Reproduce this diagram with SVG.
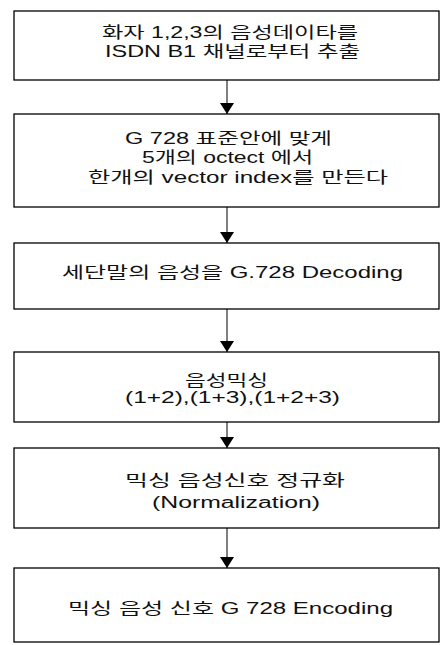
<svg xmlns="http://www.w3.org/2000/svg" width="445" height="645" viewBox="0 0 445 645">
  <style>
    .box { fill: #ffffff; stroke: #000000; stroke-width: 1.3; }
    .lbl { font-family: "Liberation Sans", "Noto Sans CJK KR", Arial, sans-serif; font-size: 16px; fill: #111111; }
    .edge { stroke: #000000; stroke-width: 1; fill: none; marker-end: url(#tri); }
  </style>
  <defs>
    <marker id="tri" viewBox="0 0 11 14" refX="11" refY="7" markerWidth="11" markerHeight="14" markerUnits="userSpaceOnUse" orient="auto">
      <path d="M0,0 L11,7 L0,14 Z" fill="#000000"/>
    </marker>
  </defs>
  <rect width="445" height="645" fill="#ffffff"/>

  <g id="step1">
    <rect class="box" x="14" y="11" width="425" height="69"/>
    <text class="lbl" x="102" y="38" textLength="256" lengthAdjust="spacingAndGlyphs">화자 1,2,3의 음성데이타를</text>
    <text class="lbl" x="105" y="57" textLength="255" lengthAdjust="spacingAndGlyphs">ISDN B1 채널로부터 추출</text>
  </g>

  <g id="step2">
    <rect class="box" x="14" y="114" width="425" height="93"/>
    <text class="lbl" x="125" y="144" textLength="207" lengthAdjust="spacingAndGlyphs">G 728 표준안에 맞게</text>
    <text class="lbl" x="142" y="163" textLength="171" lengthAdjust="spacingAndGlyphs">5개의 octect 에서</text>
    <text class="lbl" x="88" y="183" textLength="300" lengthAdjust="spacingAndGlyphs">한개의 vector  index를 만든다</text>
  </g>

  <g id="step3">
    <rect class="box" x="14" y="243" width="425" height="66"/>
    <text class="lbl" x="62" y="278" textLength="341" lengthAdjust="spacingAndGlyphs">세단말의 음성을 G.728 Decoding</text>
  </g>

  <g id="step4">
    <rect class="box" x="14" y="352" width="425" height="70"/>
    <text class="lbl" x="185" y="386" textLength="83" lengthAdjust="spacingAndGlyphs">음성믹싱</text>
    <text class="lbl" x="125" y="403" textLength="215" lengthAdjust="spacingAndGlyphs">(1+2),(1+3),(1+2+3)</text>
  </g>

  <g id="step5">
    <rect class="box" x="14" y="448" width="425" height="80"/>
    <text class="lbl" x="125" y="486" textLength="220" lengthAdjust="spacingAndGlyphs">믹싱 음성신호 정규화</text>
    <text class="lbl" x="152" y="508" textLength="168" lengthAdjust="spacingAndGlyphs">(Normalization)</text>
  </g>

  <g id="step6">
    <rect class="box" x="14" y="568" width="425" height="74"/>
    <text class="lbl" x="68" y="614" textLength="325" lengthAdjust="spacingAndGlyphs">믹싱 음성 신호 G 728 Encoding</text>
  </g>

  <g id="connectors">
    <line class="edge" x1="227" y1="80" x2="227" y2="114"/>
    <line class="edge" x1="227" y1="207" x2="227" y2="243"/>
    <line class="edge" x1="227" y1="309" x2="227" y2="352"/>
    <line class="edge" x1="227" y1="422" x2="227" y2="448"/>
    <line class="edge" x1="227" y1="528" x2="227" y2="568"/>
  </g>
</svg>
